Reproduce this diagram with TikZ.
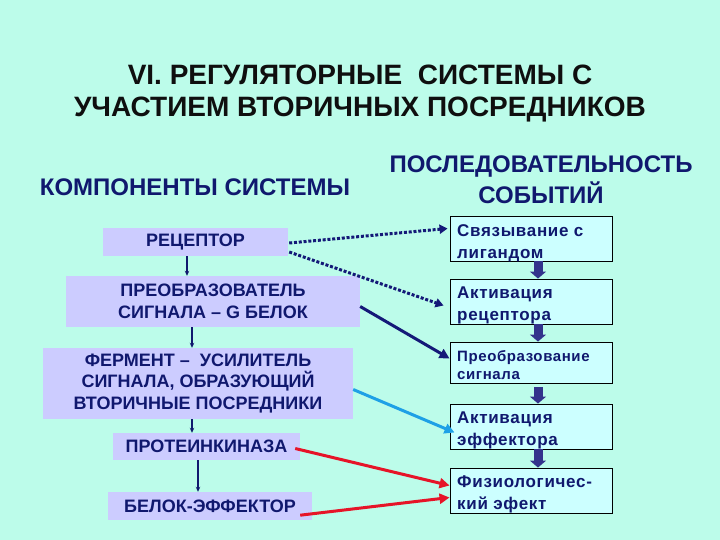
\documentclass[tikz,border=0pt]{standalone}
\usepackage{fontspec}
\setmainfont{Liberation Sans}
\newfontfamily\spaced[LetterSpace=4]{Liberation Sans}
\usetikzlibrary{arrows.meta,calc}
\definecolor{bg}{RGB}{188,252,234}
\definecolor{lav}{RGB}{204,204,255}
\definecolor{pale}{RGB}{204,255,255}
\definecolor{navy}{RGB}{16,24,110}
\definecolor{ink}{RGB}{15,15,15}
\definecolor{blockc}{RGB}{51,51,140}
\definecolor{sky}{RGB}{30,160,230}
\definecolor{redc}{RGB}{230,20,40}
\definecolor{darkline}{RGB}{20,25,120}
\begin{document}
\begin{tikzpicture}[x=1pt,y=-1pt,
  comp/.style={fill=lav, inner sep=0, text=navy, align=center,
    font=\bfseries\fontsize{18}{21.7}\selectfont},
  evbox/.style={fill=pale, draw=black, line width=0.9pt, minimum width=162pt, inner sep=0},
  evtext/.style={anchor=north west, inner sep=0, text=navy, align=left,
    font=\spaced\bfseries\fontsize{17}{22}\selectfont},
  thinarrow/.style={draw=navy, line width=1.1pt, -{Stealth[length=5pt,width=4.5pt]}},
  blockarrow/.style={draw=blockc, line width=9pt, -{Triangle[length=7pt,width=16pt]}},
  dotlink/.style={draw=darkline, line width=3pt, dash pattern=on 3pt off 1.8pt,
    -{Triangle[length=8pt,width=9pt]}},
  solidlink/.style={line width=3pt, -{Triangle[length=10pt,width=10pt]}},
  heading/.style={inner sep=0, text=navy, align=center,
    font=\bfseries\fontsize{24}{31}\selectfont},
]
\fill[bg] (0,0) rectangle (720,540);
\useasboundingbox (0,0) rectangle (720,540);

% title
\node[inner sep=0, text=ink, align=center, font=\bfseries\fontsize{28}{32}\selectfont]
  (title) at (360,94) {VI. РЕГУЛЯТОРНЫЕ\ \ СИСТЕМЫ С\\УЧАСТИЕМ ВТОРИЧНЫХ ПОСРЕДНИКОВ};

\node[heading] (h1) at (195,187) {КОМПОНЕНТЫ СИСТЕМЫ};
\node[heading] (h2) at (541,180) {ПОСЛЕДОВАТЕЛЬНОСТЬ\\СОБЫТИЙ};

% left components
\node[comp, minimum width=185pt, minimum height=28pt] (r1) at (195.5,242) {РЕЦЕПТОР};
\node[comp, minimum width=294pt, minimum height=51pt] (r2) at (213,301.5) {ПРЕОБРАЗОВАТЕЛЬ\\СИГНАЛА – G БЕЛОК};
\node[comp, minimum width=310pt, minimum height=71pt] (r3) at (198,383.5) {ФЕРМЕНТ –\ \ УСИЛИТЕЛЬ\\СИГНАЛА, ОБРАЗУЮЩИЙ\\ВТОРИЧНЫЕ ПОСРЕДНИКИ};
\node[comp, minimum width=187pt, minimum height=27pt] (r4) at (206.5,446.5) {ПРОТЕИНКИНАЗА};
\node[comp, minimum width=204pt, minimum height=28pt] (r5) at (210,506) {БЕЛОК-ЭФФЕКТОР};

\coordinate (x1) at (187,0);
\coordinate (x2) at (192,0);
\coordinate (x3) at (198,0);
\draw[thinarrow] (r1.south -| x1) -- (r2.north -| x1);
\draw[thinarrow] (r2.south -| x2) -- (r3.north -| x2);
\draw[thinarrow] (r3.south -| x2) -- (r4.north -| x2);
\draw[thinarrow] (r4.south -| x3) -- (r5.north -| x3);

% right events
\node[evbox, minimum height=45pt] (b1) at (531,238.5) {};
\node[evbox, minimum height=45pt] (b2) at (531,301.5) {};
\node[evbox, minimum height=41pt] (b3) at (531,362.5) {};
\node[evbox, minimum height=45pt] (b4) at (531,426.5) {};
\node[evbox, minimum height=45pt] (b5) at (531,490.5) {};

\node[evtext] (t1) at (457,224) {Связывание с\\лигандом};
\node[evtext] (t2) at (457,287) {Активация\\рецептора};
\node[evtext, font=\spaced\bfseries\fontsize{15}{18}\selectfont] (t3) at (457,350) {Преобразование\\сигнала};
\node[evtext] (t4) at (457,412) {Активация\\эффектора};
\node[evtext] (t5) at (457,476) {Физиологичес-\\кий эфект};

\coordinate (ax) at (538,0);
\draw[blockarrow] (b1.south -| ax) -- (b2.north -| ax);
\draw[blockarrow] (b2.south -| ax) -- (b3.north -| ax);
\draw[blockarrow] ($(b3.south -| ax)+(0,4)$) -- (b4.north -| ax);
\draw[blockarrow] (b4.south -| ax) -- (b5.north -| ax);

% connectors
\draw[dotlink] ($(r1.east)+(1,1)$) -- ($(b1.west)+(-2,-10)$);
\draw[dotlink] ($(r1.east)+(1,10)$) -- ($(b2.west)+(-6,4)$);
\draw[solidlink, draw=darkline] ($(r2.east)+(0,5)$) -- ($(b3.west)+(0,-4)$);
\draw[solidlink, draw=sky] ($(r3.east)+(0,6)$) -- ($(b4.west)+(5,6)$);
\draw[solidlink, draw=redc] ($(r4.east)+(-5,2)$) -- ($(b5.west)+(0,-5)$);
\draw[solidlink, draw=redc] ($(r5.south east)+(-12,-5)$) -- ($(b5.west)+(0,7)$);
\end{tikzpicture}
\end{document}
